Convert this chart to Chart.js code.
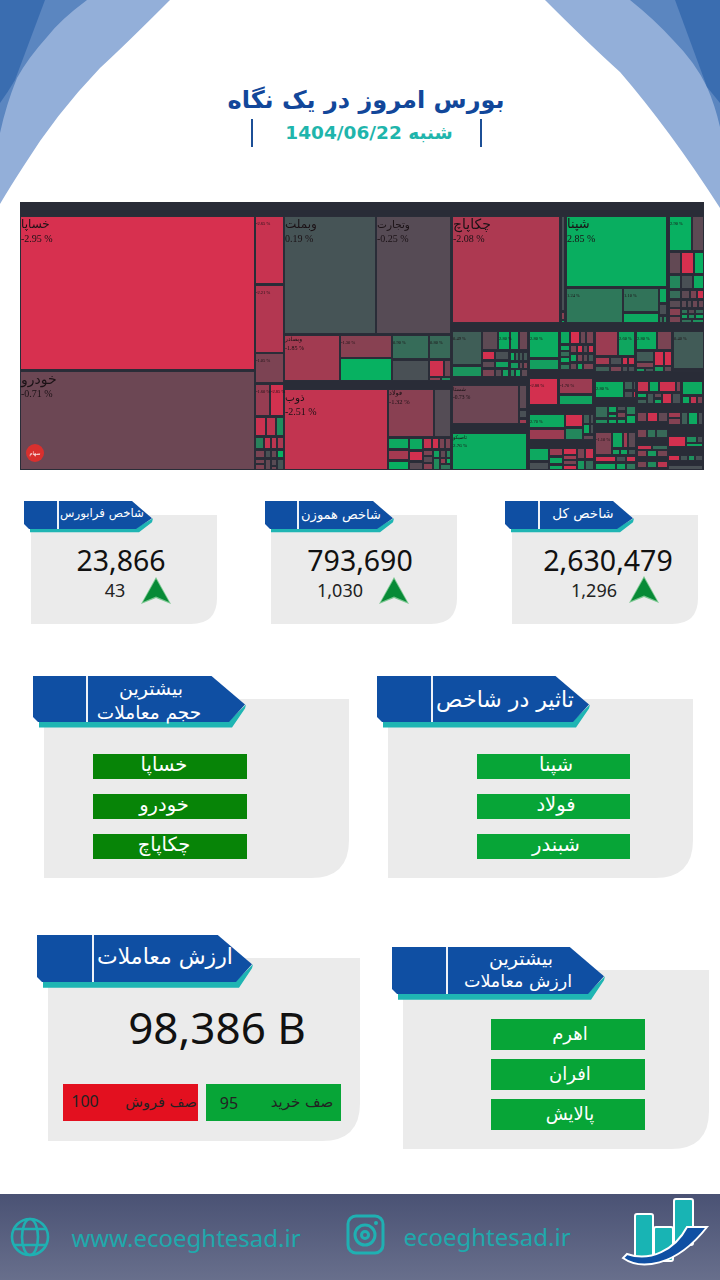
<!DOCTYPE html>
<html lang="fa">
<head>
<meta charset="utf-8">
<title>بورس امروز در یک نگاه</title>
<script src="https://cdn.jsdelivr.net/npm/chart.js@4"></script>
<style>
html,body{margin:0;padding:0;background:#fff;}
#page{position:relative;width:720px;height:1280px;overflow:hidden;background:#fff;}
#bg{position:absolute;left:0;top:0;}
#myChart_map{position:absolute;left:20px;top:202px;background:#292c37;}
.t{position:absolute;transform:translate(-50%,-50%);white-space:nowrap;line-height:1;font-family:"DejaVu Sans","Noto Sans",sans-serif;}
</style>
</head>
<body>
<div id="page">
<svg id="bg" width="720" height="1280" viewBox="0 0 720 1280" xmlns="http://www.w3.org/2000/svg"></svg>
<canvas id="myChart_map" width="684" height="268"></canvas>
</div>
<script>
const pageTitle = 'بورس امروز در یک نگاه'
const pageDate = 'شنبه 1404/06/22'

const indexNames = ['شاخص کل', 'شاخص هموزن', 'شاخص فرابورس']
const indexValues = ['2,630,479', '793,690', '23,866']
const indexChanges = ['1,296', '1,030', '43']

const impactNames = ['شپنا', 'فولاد', 'شبندر']
const volumeNames = ['خساپا', 'خودرو', 'چکاپاچ']
const valueNames = ['اهرم', 'افران', 'پالایش']
const tradeValue = '98,386 B'
const queueNames = ['صف خرید', 'صف فروش']
const queueValues = [95, 100]

// treemap tiles, extents in map units, one entry per tile
const tileLeft = [
20,20,255,255,255,255,270,255,266,276, 255,264,271,277,255,265,271,277,255,265,
271,277,255,271,284,376,284,340,340,392, 429,392,429,444,429,441,284,388,434,388,
388,388,409,423,432,439,445,409,409,423, 423,423,433,440,446,433,440,446,440,452,
561,561,561,566,566,623,623,659,659,659, 663,669,692,669,681,694,669,681,693,669,
681,690,697,669,681,687,692,698,669,669, 681,688,695,681,688,695,681,692,452,452,
482,498,510,519,482,495,482,482,495,495, 502,510,515,519,523,510,519,523,510,515,
521,529,529,560,570,580,586,560,560,560, 560,570,577,583,588,570,577,583,588,570,
577,583,595,618,595,595,610,622,628,610, 622,628,636,657,636,636,636,645,654,664,
654,664,673,673,452,519,519,519,452,529, 559,559,529,529,565,565,583,590,583,590,
583,529,529,549,563,549,549,563,563,563, 577,585,577,585,595,624,633,624,633,595,
595,608,608,608,617,617,617,626,626,595, 612,623,628,612,620,628,595,595,616,626,
616,626,637,649,659,676,637,637,647,654, 654,662,672,682,682,690,697,637,647,658,
668,668,681,688,698,637,647,656,668,686, 697,686,637,652,637,647,657,637,647,657,
668,680,688,695,637,668]
const tileRight = [
255,255,284,284,284,270,284,266,276,284, 264,271,277,284,265,271,277,284,265,271,
277,284,265,277,376,451,340,392,392,429, 451,429,444,451,441,451,388,434,451,409,
409,409,423,432,439,445,451,423,423,433, 433,433,440,446,451,440,446,451,451,560,
565,565,565,667,623,659,659,667,667,663, 667,692,704,681,694,704,681,693,704,681,
690,697,704,681,687,692,698,704,681,681, 688,695,704,688,695,704,692,704,482,482,
498,510,519,528,495,509,495,495,509,502, 509,515,519,523,528,519,523,528,515,521,
528,559,559,570,580,586,594,570,570,570, 570,577,583,588,594,577,583,588,594,577,
583,594,618,635,610,610,622,628,635,622, 628,635,657,672,654,654,645,654,664,672,
664,672,704,704,519,527,527,527,527,558, 593,593,565,565,583,583,590,594,590,594,
594,549,549,563,577,563,563,577,577,577, 585,594,585,594,624,633,636,633,636,608,
608,617,617,617,626,626,626,636,636,612, 623,628,636,620,628,636,616,616,626,636,
626,636,649,659,676,681,647,647,654,662, 662,672,681,703,690,697,703,647,658,668,
681,681,688,698,703,647,656,668,686,697, 703,703,652,668,647,657,668,647,657,668,
680,688,695,703,650,703]
const tileTop = [
216,371,216,285,353,384,384,417,417,417, 437,437,437,437,450,450,450,450,459,459,
459,459,464,466,216,216,335,335,358,335, 335,360,360,360,377,377,389,389,389,438,
450,461,438,438,438,438,438,451,462,450, 456,463,450,450,450,458,458,458,464,216,
216,312,320,216,288,288,313,288,304,316, 316,216,216,252,252,252,275,275,275,290,
290,290,290,300,300,300,300,300,308,316, 309,309,309,314,314,314,319,319,331,366,
331,331,331,331,351,351,361,369,361,369, 369,352,352,352,352,362,362,362,369,369,
369,331,359,331,331,331,331,345,351,357, 364,345,345,345,345,354,354,354,354,363,
363,363,331,331,357,366,357,357,357,366, 366,366,331,331,351,362,368,368,351,351,
366,366,331,370,385,385,410,419,433,378, 378,395,414,429,414,428,414,414,424,424,
435,448,462,448,448,457,465,455,460,465, 448,448,460,460,381,381,381,391,391,406,
419,406,414,419,406,412,419,406,415,432, 432,432,432,449,449,449,456,463,456,456,
463,463,381,381,381,381,393,399,393,393, 399,393,393,381,396,396,396,412,412,412,
412,418,412,412,412,429,429,429,436,436, 436,443,445,445,450,450,450,461,461,461,
455,455,455,455,468,465]
const tileBottom = [
370,470,284,353,383,416,416,436,436,436, 449,449,449,449,458,458,458,458,464,470,
466,470,470,470,334,334,381,358,381,359, 359,381,377,377,381,381,470,437,437,449,
460,470,450,449,449,449,449,461,470,456, 463,470,458,458,458,470,464,464,470,323,
311,320,323,287,323,312,323,303,315,323, 323,251,251,274,274,274,289,289,289,299,
299,299,299,308,308,308,308,308,316,323, 314,314,314,319,319,319,323,323,365,377,
350,350,350,350,360,360,368,377,368,377, 377,361,361,361,361,369,369,369,377,377,
377,358,370,344,344,344,344,351,357,363, 370,353,353,353,353,362,362,362,362,370,
370,370,356,356,365,372,365,365,365,372, 372,372,350,350,362,368,372,372,366,366,
372,372,369,372,424,409,418,424,470,405, 394,405,428,440,427,440,424,424,434,434,
440,461,470,456,455,464,470,460,465,470, 459,459,470,470,398,390,390,398,398,418,
424,413,418,424,411,418,424,415,424,455, 448,448,448,455,455,455,462,470,462,462,
470,470,392,392,392,392,398,404,404,398, 404,404,404,395,404,404,404,422,422,422,
418,425,425,425,425,438,438,438,447,443, 443,447,450,450,457,457,457,468,468,468,
461,461,461,461,470,470]
const tileChange = [
-2.95,-0.71,-2.65,-2.21,-1.05,-1.6,-2.85,-2.7,-2.4,1.9, 1.5,-2.6,-2.4,-2.0,-1.0,0.1,-0.6,2.9,-0.9,-0.5,
-0.3,0.2,-1.1,-0.8,0.19,-0.25,-1.85,-1.3,2.95,0.9, 0.8,0.05,-2.8,-0.7,-1.3,1.9,-2.51,-1.32,-0.2,2.7,
-1.9,2.9,2.7,-2.6,-2.8,-1.0,-1.0,-2.9,-0.3,-1.0, -0.3,-1.3,2.5,-0.5,1.6,1.8,-1.5,2.8,1.2,-2.08,
0.1,-1.3,2.6,2.85,1.24,1.1,2.7,2.7,0.05,0.9, 1.5,2.9,-0.4,-0.5,-2.95,2.9,1.7,0.05,2.8,0.9,
-0.4,-1.0,-2.8,-0.3,-0.4,-0.3,-0.7,-0.6,-1.3,-1.0, 1.1,-0.3,0.9,2.4,1.7,2.6,1.0,2.0,0.49,2.1,
-0.4,2.8,2.7,-0.7,-2.9,0.05,-0.4,-1.0,2.5,-0.3, 2.4,2.7,0.9,0.3,0.3,2.3,-0.5,-1.0,1.6,2.7,
-0.4,2.8,2.4,2.7,-2.95,-0.7,-1.0,2.6,0.9,2.7, 1.2,-1.0,-2.9,-0.4,-2.7,2.6,-1.0,-0.4,0.3,-0.5,
2.6,-1.0,-1.7,2.6,-1.9,0.5,0.05,-2.8,-2.8,-1.0, 0.05,0.05,2.8,-1.0,0.4,-1.1,2.3,0.2,-2.9,-2.9,
2.1,-0.4,0.4,-1.9,-0.73,-0.4,0.05,-1.8,2.76,-2.88, -1.7,2.5,2.7,-1.7,-2.9,1.7,0.5,0.1,2.7,0.1,
-0.5,2.7,0.05,-1.7,-2.9,2.6,2.7,-1.8,-1.0,-2.9, -1.0,-2.7,2.2,0.9,2.8,0.5,0.1,0.05,-2.6,0.9,
1.8,2.6,2.6,2.6,0.05,-1.0,2.5,1.5,2.7,-1.1, 2.6,-1.8,-0.4,2.4,2.6,0.3,-2.8,2.7,0.05,-2.7,
2.5,1.2,-2.6,2.7,-2.8,-1.0,2.7,0.5,0.3,-0.5, 2.6,-2.8,0.1,2.7,2.7,-2.5,-1.0,-1.0,-2.8,-0.5,
-1.8,-1.2,0.5,2.7,0.05,-1.0,1.1,0.8,-2.9,1.9, 0.1,2.6,-2.6,0.9,-1.3,2.3,-0.9,-1.0,1.8,-2.4,
-2.9,0.2,2.0,0.05,0.05,0.05]

// named tiles: which tile, ticker, text size
const labelTile = [0, 1, 24, 25, 59, 63, 36, 37, 26, 164, 168]
const labelName = ['خساپا', 'خودرو', 'وبملت', 'وتجارت', 'چکاپاچ', 'شپنا', 'ذوب', 'فولاد', 'وبصادر', 'شستا', 'تاصیکو']
const labelSize = [12, 14, 12, 10.5, 14, 13, 10.5, 6.5, 6, 5.5, 5]
// tiles that only show their percent in very small type
const smallPctTile = [2, 3, 4, 5, 6, 27, 29, 30, 64, 65, 71, 98, 101, 121, 143, 152, 162, 169, 170, 172, 194, 209]

const page = document.getElementById('page')
const bg = document.getElementById('bg')
const latin = '"Noto Sans","Open Sans",sans-serif'
let svgText = ''

function txt(s, cx, cy, size, color, font, weight){
    const d = document.createElement('div')
    d.className = 't'
    d.textContent = s
    d.dir = font == latin ? 'ltr' : 'rtl'
    d.style.left = cx + 'px'
    d.style.top = cy + 'px'
    d.style.fontSize = size + 'px'
    d.style.color = color
    if(font) d.style.fontFamily = font
    if(weight) d.style.fontWeight = weight
    page.appendChild(d)
}

// blue arches on top corners
function arches(){
    svgText += '<path d="M0 0H170Q125 45 100 68Q55 115 23 167Q10 187 0 204Z" fill="#93afd9"/>'
    svgText += '<path d="M0 0H87Q60 20 47 37Q28 58 17 78Q6 105 0 133Z" fill="#5b86c0"/>'
    svgText += '<path d="M0 0H45L15 80Q8 92 0 103Z" fill="#3a6db0"/>'
    svgText += '<path d="M720 0H545Q590 45 620 72Q670 130 720 208Z" fill="#93afd9"/>'
    svgText += '<path d="M720 0H630Q655 20 673 40Q695 62 707 87Q715 105 720 127Z" fill="#5b86c0"/>'
    svgText += '<path d="M720 0H675L707 87L720 103Z" fill="#3a6db0"/>'
}

function card(x, y, w, h, r){
    svgText += `<path d="M${x} ${y}H${x+w}V${y+h-r}Q${x+w} ${y+h} ${x+w-r} ${y+h}H${x}Z" fill="#ebebeb"/>`
}

// blue ribbon with teal under edge
function tab(x, y, w, h, lineX){
    const foot = h * 0.12
    const tip = h * 0.62
    const top = w - h * 0.75
    svgText += `<path d="M${x+6} ${y+h-1}H${x+w-17}L${x+w} ${y+tip}L${x+w-1} ${y+tip+4}L${x+w-14} ${y+h+foot}H${x+6}Z" fill="#1fb5b3"/>`
    svgText += `<path d="M${x} ${y}H${x+top}L${x+w-1} ${y+tip}L${x+w-17} ${y+h}H${x+5}L${x} ${y+h-5}Z" fill="#0f4fa3"/>`
    svgText += `<rect x="${lineX-1}" y="${y}" width="2" height="${h}" fill="#eef2f8"/>`
}

function arrowUp(cx, y){
    svgText += `<path d="M${cx} ${y}L${cx+15} ${y+27}L${cx} ${y+21}L${cx-15} ${y+27}Z" fill="#79c78f"/>`
    svgText += `<path d="M${cx} ${y+2}L${cx+13} ${y+25}L${cx} ${y+19.5}L${cx-13} ${y+25}Z" fill="#078a36"/>`
}

function btn(x, y, w, h, color){
    svgText += `<rect x="${x}" y="${y}" width="${w}" height="${h}" fill="${color}"/>`
}

function footer(){
    svgText += '<defs><linearGradient id="fg" x1="0" y1="0" x2="0" y2="1"><stop offset="0" stop-color="#4a5274"/><stop offset="1" stop-color="#686f8c"/></linearGradient></defs>'
    svgText += '<rect x="0" y="1194" width="720" height="86" fill="url(#fg)"/>'
    // globe
    svgText += '<g fill="none" stroke="#1fb0b2" stroke-width="2.6"><circle cx="30" cy="1237" r="18"/><ellipse cx="30" cy="1237" rx="8" ry="18"/><path d="M13 1229H47M13 1245H47"/></g>'
    // instagram
    svgText += '<g fill="none" stroke="#1fb0b2" stroke-width="3"><rect x="348" y="1216" width="35" height="37" rx="8"/><circle cx="365" cy="1235" r="10"/><circle cx="365" cy="1235" r="3.5"/></g><circle cx="376" cy="1223" r="2" fill="#1fb0b2"/>'
    // logo
    svgText += '<g fill="#18b4b4" stroke="#fff" stroke-width="2"><rect x="635" y="1214" width="18" height="48" rx="2"/><rect x="654" y="1227" width="19" height="34" rx="2"/><rect x="674" y="1199" width="19" height="46" rx="2"/></g>'
    svgText += '<path d="M623 1258C640 1270 675 1268 707 1227H687C675 1250 650 1262 627 1254Z" fill="#0f4fa3" stroke="#fff" stroke-width="2"/>'
}

arches()
svgText += '<rect x="251" y="119" width="2" height="28" fill="#1c4f96"/><rect x="480" y="119" width="2" height="28" fill="#1c4f96"/>'

const topCardX = [512, 271, 31]
const topTabX = [505, 265, 24]
const topLineX = [539, 298, 58]
const topArrowX = [644, 394, 156]
for(let i = 0; i < 3; i++){
    card(topCardX[i], 515, 186, 109, 26)
    tab(topTabX[i], 501, 129, 28, topLineX[i])
    arrowUp(topArrowX[i], i == 0 ? 576 : 577)
}

card(388, 699, 305, 179, 38)
card(44, 699, 305, 179, 38)
tab(377, 676, 213, 46, 432)
tab(33, 676, 213, 46, 87)
for(let i = 0; i < 3; i++){
    btn(477, 754 + i * 40, 153, 25, '#07a537')
    btn(93, 754 + i * 40, 154, 25, '#078407')
}

card(48, 958, 312, 183, 38)
card(403, 970, 306, 179, 38)
tab(37, 935, 216, 47, 93)
tab(392, 947, 213, 47, 447)
btn(63, 1084, 135, 37, '#e3101f')
btn(206, 1084, 135, 37, '#07a537')
for(let i = 0; i < 3; i++){
    btn(491, 1019 + i * 40, 154, 31, '#07a537')
}
footer()
bg.innerHTML = svgText

// page text
txt(pageTitle, 366, 100, 24, '#12479a', null, 'bold')
txt(pageDate, 369, 133, 18.5, '#1fb5ac', null, 'bold')

const topTextX = [583, 341, 102]
const topValueX = [608, 360, 121]
const topChangeX = [594, 340, 115]
const topNameSize = [13.5, 13, 11.8]
for(let i = 0; i < 3; i++){
    txt(indexNames[i], topTextX[i], 514, topNameSize[i], '#fff')
    txt(indexValues[i], topValueX[i], 560, 28.5, '#111', latin)
    txt(indexChanges[i], topChangeX[i], 590, 18, '#222', latin)
}

txt('تاثیر در شاخص', 505, 700, 22, '#fff')
txt('بیشترین', 151, 688, 19, '#fff')
txt('حجم معاملات', 149, 713, 18.5, '#fff')
txt('ارزش معاملات', 165, 957, 22, '#fff')
txt('بیشترین', 521, 958, 19, '#fff')
txt('ارزش معاملات', 518, 982, 17.5, '#fff')
for(let i = 0; i < 3; i++){
    txt(impactNames[i], 556, 765 + i * 40, 19.5, '#fff')
    txt(volumeNames[i], 164, 765 + i * 40, 19.5, '#fff')
    txt(valueNames[i], 570, 1034 + i * 40, 18, '#fff')
}
txt(tradeValue, 217, 1027, 44, '#111', latin)
txt(queueNames[0], 302, 1102, 15, '#222')
txt(String(queueValues[0]), 229, 1103, 16, '#222', latin)
txt(queueNames[1], 161, 1102, 14.5, '#222')
txt(String(queueValues[1]), 85, 1101, 16, '#222', latin)
txt('www.ecoeghtesad.ir', 186, 1238, 24, '#1fa9ac', latin)
txt('ecoeghtesad.ir', 487, 1237, 24, '#1fa9ac', latin)

// colour from percent change, dark grey at zero
function tileColor(v){
    const t = Math.min(Math.abs(v) / 3, 1)
    const to = v < 0 ? [217, 47, 79] : [6, 179, 97]
    const from = [74, 78, 85]
    const c = from.map((f, i) => Math.round(f + (to[i] - f) * t))
    return `rgb(${c[0]},${c[1]},${c[2]})`
}

function pctText(v){
    return v.toFixed(2) + ' %'
}

// bars only know one width per dataset, so give each tile its own extent here
const tileWidths = {
    id: 'tileWidths',
    afterDatasetsUpdate(chart){
        const x = chart.scales.x
        chart.getDatasetMeta(0).data.forEach((el, i) => {
            const a = x.getPixelForValue(tileLeft[i])
            const b = x.getPixelForValue(tileRight[i])
            el.x = (a + b) / 2
            el.width = b - a
        })
    }
}

const tileLabels = {
    id: 'tileLabels',
    afterDatasetsDraw(chart){
        const ctx = chart.ctx
        const x = chart.scales.x
        const y = chart.scales.y
        ctx.save()
        ctx.fillStyle = '#1b1216'
        ctx.textBaseline = 'middle'
        ctx.textAlign = 'left'
        labelTile.forEach((t, i) => {
            const px = x.getPixelForValue(tileLeft[t]) + 1
            const py = y.getPixelForValue(tileTop[t])
            const s = labelSize[i]
            const big = s > 9
            ctx.font = s + 'px "DejaVu Sans"'
            ctx.direction = 'rtl'
            ctx.fillText(labelName[i], px, py + (big ? 9 : 4.5))
            ctx.direction = 'ltr'
            ctx.font = (big ? 10 : s) + 'px "Liberation Serif"'
            ctx.fillText(pctText(tileChange[t]), px, py + (big ? 23 : 13))
        })
        ctx.font = '4.5px "Liberation Serif"'
        smallPctTile.forEach(t => {
            const px = x.getPixelForValue(tileLeft[t]) + 1
            const py = y.getPixelForValue(tileTop[t])
            ctx.fillText(pctText(tileChange[t]), px, py + 8)
        })
        ctx.restore()
    }
}

const gphc_map = document.getElementById('myChart_map')
const graphic_map = new Chart(gphc_map, {
    type: 'bar',
    data: {
        datasets: [{
            data: tileChange.map((v, i) => ({x: (tileLeft[i] + tileRight[i]) / 2, y: [tileTop[i], tileBottom[i]]})),
            backgroundColor: tileChange.map(tileColor),
            borderColor: '#2a2d38',
            borderWidth: 1,
            borderSkipped: false,
        }]
    },
    options: {
        responsive: false,
        animation: false,
        layout: {padding: 0},
        scales: {
            x: {type: 'linear', display: false, offset: false, min: 20, max: 704},
            y: {display: false, reverse: true, min: 202, max: 470},
        },
        plugins: {
            legend: {display: false},
            tooltip: {enabled: false},
        }
    },
    plugins: [tileWidths, tileLabels]
})
graphic_map.update()

// small round stamp on the map
const stamp = document.createElement('div')
stamp.style.cssText = 'position:absolute;left:26px;top:444px;width:18px;height:18px;border-radius:50%;background:#d9302e;'
page.appendChild(stamp)
txt('سهام', 35, 453, 5, '#fff')
</script>
</body>
</html>
